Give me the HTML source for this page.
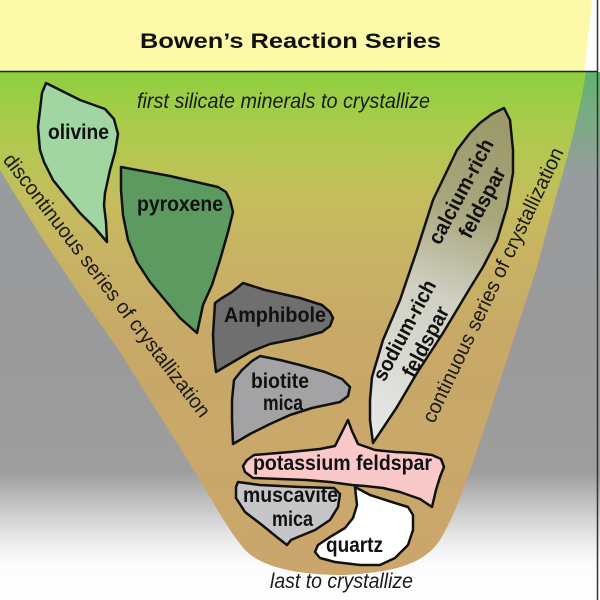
<!DOCTYPE html>
<html>
<head>
<meta charset="utf-8">
<style>
  html, body { margin:0; padding:0; background:#ffffff; }
  svg { display:block; }
  .lbl { font-family:"Liberation Sans", Arial, sans-serif; font-weight:bold; font-size:21px; fill:#111; }
  .it { font-family:"Liberation Sans", Arial, sans-serif; font-style:italic; font-size:21px; fill:#1a1a1a; }
  .sd { font-family:"Liberation Sans", Arial, sans-serif; font-size:20.5px; fill:#1a1a1a; }
</style>
</head>
<body>
<svg width="600" height="600" viewBox="0 0 600 600" xmlns="http://www.w3.org/2000/svg">
  <defs>
    <linearGradient id="bg" gradientUnits="userSpaceOnUse" x1="0" y1="72" x2="0" y2="600">
      <stop offset="0" stop-color="#5cb46e"/>
      <stop offset="0.08" stop-color="#78ac82"/>
      <stop offset="0.2" stop-color="#989c9e"/>
      <stop offset="0.5" stop-color="#9a9a9a"/>
      <stop offset="0.76" stop-color="#9e9e9e"/>
      <stop offset="0.82" stop-color="#c4c4c4"/>
      <stop offset="0.89" stop-color="#ececec"/>
      <stop offset="0.93" stop-color="#fbfbfb"/>
      <stop offset="1" stop-color="#ffffff"/>
    </linearGradient>
    <linearGradient id="fun" gradientUnits="userSpaceOnUse" x1="0" y1="72" x2="0" y2="575">
      <stop offset="0" stop-color="#8ed03e"/>
      <stop offset="0.13" stop-color="#aeca4e"/>
      <stop offset="0.25" stop-color="#c4bd5c"/>
      <stop offset="0.37" stop-color="#c8b264"/>
      <stop offset="0.53" stop-color="#c8a968"/>
      <stop offset="1" stop-color="#caa66c"/>
    </linearGradient>
    <linearGradient id="plag" gradientUnits="userSpaceOnUse" x1="504" y1="108" x2="373" y2="443">
      <stop offset="0" stop-color="#9a9868"/>
      <stop offset="0.3" stop-color="#a8a67c"/>
      <stop offset="0.55" stop-color="#cfcfc2"/>
      <stop offset="1" stop-color="#e8e8e8"/>
    </linearGradient>
  </defs>

  <!-- background -->
  <rect x="0" y="0" width="600" height="600" fill="url(#bg)"/>

  <!-- funnel -->
  <path d="M -10,60 L 590,60 L 586,72 C 580,110 570,150 555,200 L 537,267 L 510,350 L 483,433 C 470,470 458,510 440,540 C 425,562 400,572 345,575 C 290,575 260,565 245,550 C 228,530 215,505 200,480 L 175,440 L 150,400 L 120,352 L 80,295 L 40,235 L 0,170 L -10,170 Z" fill="url(#fun)"/>

  <!-- header -->
  <rect x="0" y="0" width="600" height="72" fill="#ffffff"/>
  <path d="M0,0 L592,0 Q588,40 584,72 L0,72 Z" fill="#fcf9a8"/>
  <line x1="0" y1="71.5" x2="598" y2="71.5" stroke="#222" stroke-width="1.5"/>
  <line x1="597.5" y1="0" x2="597.5" y2="600" stroke="#333" stroke-width="1.5"/>

  <text class="lbl" x="140" y="48" font-size="28" textLength="301" lengthAdjust="spacingAndGlyphs">Bowen’s Reaction Series</text>
  <text class="it" x="137" y="108" textLength="293" lengthAdjust="spacingAndGlyphs">first silicate minerals to crystallize</text>
  <text class="it" x="270" y="588" font-size="20.5" textLength="143" lengthAdjust="spacingAndGlyphs">last to crystallize</text>

  <!-- side labels -->
  <g transform="translate(101.5,289.5) rotate(52.5)">
    <text class="sd" x="0" y="0" text-anchor="middle" textLength="326" lengthAdjust="spacingAndGlyphs">discontinuous series of crystallization</text>
  </g>
  <g transform="translate(499,288) rotate(-64.5)">
    <text class="sd" x="0" y="0" text-anchor="middle" textLength="302" lengthAdjust="spacingAndGlyphs">continuous series of crystallization</text>
  </g>

  <g stroke="#111" stroke-width="2.5" stroke-linejoin="round">
    <!-- olivine -->
    <path fill="#a1d6a3" d="M46,83 L60,90 L80,100 L105,109 L114,119 L118,134 L115,152 L110,170 L105,193 L104,205 L106,222 L107,242 L95,228 L80,213 L65,195 L53,180 L44,162 L40,150 L38,127 L42,93 Z"/>
    <!-- pyroxene -->
    <path fill="#5c9a60" d="M121,167 L170,176 L218,187 L226,192 L230,200 L233,212 L228,232 L220,260 L212,285 L203,305 L197,333 L180,318 L165,300 L150,282 L137,262 L128,240 L123,215 L121,190 Z"/>
    <!-- amphibole -->
    <path fill="#6f6f6f" d="M243,283 L265,290 L300,298 L322,305 L330,312 L333,318 L330,326 L322,332 L300,338 L270,344 L250,352 L233,362 L216,372 L214,355 L213,335 L215,303 L222,298 L232,292 Z"/>
    <!-- biotite -->
    <path fill="#a3a3a5" d="M260,356 L280,360 L300,365 L325,372 L342,379 L350,387 L348,396 L340,402 L312,408 L290,415 L270,424 L250,434 L233,444 L232,420 L232,400 L234,380 L242,370 L252,361 Z"/>
    <!-- plagioclase -->
    <path fill="url(#plag)" d="M504,108 L510,120 L513,150 L513,173 L507,207 L497,240 L483,267 L467,293 L443,333 L417,373 L397,407 L373,443 L370,420 L370,400 L372,377 L383,340 L400,300 L417,250 L433,200 L445,175 L457,150 L470,133 L480,123 L492,114 Z"/>
    <!-- potassium feldspar -->
    <path fill="#f9c8c8" d="M348,420 L352,431 L358,444 L375,450 L395,452 L415,453 L432,455 L441,459 L444,467 L440,477 L436,490 L432,507 L420,499 L400,492 L383,488 L365,486 L352,485 L330,482 L306,480 L280,479 L253,478 L245,472 L243,466 L247,460 L254,455 L290,452 L320,449 L335,446 L342,432 Z"/>
    <!-- muscovite -->
    <path fill="#c6c6c8" d="M238,482 L260,485 L300,487 L334,488 L340,494 L338,507 L330,520 L315,530 L298,537 L291,540 L287,545 L278,538 L262,525 L245,512 L236,498 L236,487 Z"/>
    <!-- quartz -->
    <path fill="#ffffff" d="M355,487 L370,495 L395,503 L408,507 L413,515 L413,530 L408,545 L395,558 L380,565 L360,565 L335,562 L320,558 L315,552 L318,545 L330,537 L345,528 L353,518 L357,505 Z"/>
  </g>

  <!-- mineral labels -->
  <text class="lbl" x="48" y="139" textLength="61" lengthAdjust="spacingAndGlyphs">olivine</text>
  <text class="lbl" x="137" y="211" textLength="86" lengthAdjust="spacingAndGlyphs">pyroxene</text>
  <text class="lbl" x="224" y="322" textLength="102" lengthAdjust="spacingAndGlyphs">Amphibole</text>
  <text class="lbl" x="251" y="388" textLength="58" lengthAdjust="spacingAndGlyphs">biotite</text>
  <text class="lbl" x="263" y="410" textLength="40" lengthAdjust="spacingAndGlyphs">mica</text>
  <text class="lbl" x="253" y="470" textLength="179" lengthAdjust="spacingAndGlyphs">potassium feldspar</text>
  <text class="lbl" x="243" y="502" textLength="95" lengthAdjust="spacingAndGlyphs">muscavite</text>
  <text class="lbl" x="272" y="526" textLength="41" lengthAdjust="spacingAndGlyphs">mica</text>
  <text class="lbl" x="326" y="552" textLength="57" lengthAdjust="spacingAndGlyphs">quartz</text>

  <g transform="translate(471.5,197) rotate(-62)">
    <text class="lbl" x="0" y="-5" text-anchor="middle" textLength="116" lengthAdjust="spacingAndGlyphs">calcium-rich</text>
    <text class="lbl" x="0" y="19" text-anchor="middle" textLength="77" lengthAdjust="spacingAndGlyphs">feldspar</text>
  </g>
  <g transform="translate(415,336) rotate(-62)">
    <text class="lbl" x="0" y="-5" text-anchor="middle" textLength="111" lengthAdjust="spacingAndGlyphs">sodium-rich</text>
    <text class="lbl" x="0" y="19" text-anchor="middle" textLength="77" lengthAdjust="spacingAndGlyphs">feldspar</text>
  </g>
</svg>
</body>
</html>
